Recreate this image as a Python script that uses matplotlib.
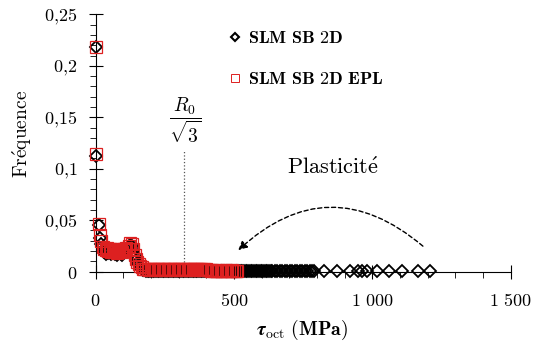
import matplotlib
matplotlib.use("Agg")
import matplotlib.pyplot as plt
from matplotlib.lines import Line2D
from matplotlib.patches import FancyArrowPatch
from matplotlib.ticker import FixedLocator, FixedFormatter, MultipleLocator

plt.rcParams['mathtext.fontset'] = 'cm'

# ---------------- data ----------------
epl_x = [0, 2, 12, 17, 21, 26, 31, 36, 41, 46,
         51, 56, 61, 66, 71, 76, 81, 86, 91, 96,
         101, 106, 111, 116, 121, 126, 131, 136, 141, 146,
         151, 156, 161, 166, 171, 176, 182, 188, 194, 200,
         206, 212, 218, 224, 230, 236, 242, 248, 254, 260,
         266, 272, 278, 284, 290, 296, 302, 308, 314, 320,
         326, 332, 338, 344, 350, 356, 362, 368, 374, 380,
         386, 392, 398, 404, 410, 416, 422, 428, 434, 440,
         446, 452, 458, 464, 470, 476, 482, 488, 494, 500,
         506, 512]
epl_y = [0.218, 0.114, 0.046, 0.036, 0.030, 0.024, 0.022, 0.021, 0.023, 0.020,
         0.022, 0.019, 0.021, 0.022, 0.020, 0.018, 0.021, 0.022, 0.020, 0.019,
         0.022, 0.021, 0.023, 0.022, 0.025, 0.028, 0.027, 0.022, 0.016, 0.012,
         0.009, 0.007, 0.005, 0.004, 0.003, 0.0025, 0.003, 0.0025, 0.002, 0.003,
         0.0025, 0.003, 0.002, 0.0025, 0.003, 0.0025, 0.002, 0.003, 0.0025, 0.003,
         0.002, 0.0025, 0.003, 0.0025, 0.002, 0.003, 0.0025, 0.003, 0.002, 0.0025,
         0.003, 0.0025, 0.002, 0.003, 0.0025, 0.003, 0.002, 0.0025, 0.003, 0.0025,
         0.002, 0.003, 0.0025, 0.002, 0.0015, 0.001, 0.0012, 0.001, 0.0008, 0.001,
         0.0012, 0.001, 0.0008, 0.001, 0.0012, 0.001, 0.0008, 0.001, 0.0012, 0.001,
         0.0008, 0.001]

sb_x = [0, 2, 12, 17, 21, 26, 31, 36, 41, 46,
        51, 56, 61, 66, 71, 76, 81, 86, 91, 96,
        101, 106, 111, 116, 121, 126, 131, 136, 141, 146,
        151, 156, 161, 166, 171, 176, 182, 188, 194, 200,
        206, 212, 218, 224, 230, 236, 242, 248, 254, 260,
        266, 272, 278, 284, 290, 296, 302, 308, 314, 320,
        326, 332, 338, 344, 350, 356, 362, 368, 374, 380,
        386, 392, 398, 404, 410, 416, 422, 428, 434, 440,
        446, 452, 458, 464, 470, 476, 482, 488, 494, 500,
        506, 512, 518, 524, 530, 536, 542, 548, 554, 560,
        566, 572, 578, 584, 590, 596, 602, 608, 614, 620,
        626, 632, 638, 647, 656, 665, 674, 683, 692, 701,
        710, 719, 728, 737, 746, 755, 764, 773, 782, 790,
        825, 871, 919, 948, 963, 981, 1018, 1061, 1106, 1166,
        1208]
sb_y = [0.218, 0.112, 0.045, 0.033, 0.027, 0.021, 0.019, 0.017, 0.020, 0.018,
        0.019, 0.017, 0.018, 0.020, 0.017, 0.016, 0.018, 0.020, 0.017, 0.016,
        0.019, 0.020, 0.021, 0.020, 0.024, 0.026, 0.025, 0.020, 0.015, 0.011,
        0.008, 0.006, 0.004, 0.003, 0.002, 0.0015, 0.001, 0.0008, 0.0006, 0.0008,
        0.0006, 0.0008, 0.0006, 0.0008, 0.0006, 0.0008, 0.0006, 0.0008, 0.0006, 0.0008,
        0.0006, 0.0008, 0.0006, 0.0008, 0.0006, 0.0008, 0.0006, 0.0008, 0.0006, 0.0008,
        0.0006, 0.0008, 0.0006, 0.0008, 0.0006, 0.0008, 0.0006, 0.0008, 0.0006, 0.0008,
        0.0006, 0.0008, 0.0006, 0.0008, 0.0006, 0.0008, 0.0006, 0.0008, 0.0006, 0.0008,
        0.0006, 0.0008, 0.0006, 0.0008, 0.0006, 0.0008, 0.0006, 0.0008, 0.0006, 0.0008,
        0.0006, 0.0008, 0.0007, 0.0008, 0.0007, 0.0008, 0.0007, 0.0008, 0.0007, 0.0008,
        0.0007, 0.0008, 0.0007, 0.0008, 0.0007, 0.0008, 0.0007, 0.0008, 0.0007, 0.0008,
        0.0007, 0.0008, 0.0007, 0.0006, 0.0007, 0.0006, 0.0007, 0.0006, 0.0007, 0.0006,
        0.0007, 0.0006, 0.0007, 0.0006, 0.0007, 0.0006, 0.0007, 0.0006, 0.0007, 0.0006,
        0.0003, 0.0003, 0.0003, 0.0003, 0.0003, 0.0003, 0.0003, 0.0003, 0.0003, 0.0003,
        0.0003]

series_labels = ['SLM SB 2D', 'SLM SB 2D EPL']
x_ticks = [0, 500, 1000, 1500]
x_tick_labels = ['0', '500', '1 000', '1 500']
y_ticks = [0, 0.05, 0.1, 0.15, 0.2, 0.25]
y_tick_labels = ['0', '0,05', '0,1', '0,15', '0,2', '0,25']
r0_line_x = 320
r0_line_top = 0.118


def bold_math(s):
    return r'$\mathbf{' + s.replace(',', '{,}').replace(' ', r'\ ') + '}$'


# ---------------- figure ----------------
fig = plt.figure(figsize=(5.33, 3.47), dpi=100)
ax = fig.add_axes([0.1794, 0.2173, 0.779, 0.7411])

red = '#dd2020'
ax.plot(sb_x, sb_y, ls='none', marker='D', ms=6.0, mfc='none', mec='black',
        mew=1.3, clip_on=False, zorder=3)
ax.plot(epl_x, epl_y, ls='none', marker='s', ms=9.0, mfc='none', mec=red,
        mew=0.9, clip_on=False, zorder=4)

ax.set_xlim(0, 1500)
ax.set_ylim(0, 0.25)

for s in ['top', 'right']:
    ax.spines[s].set_visible(False)
for s in ['left', 'bottom']:
    ax.spines[s].set_linewidth(0.8)

ax.xaxis.set_major_locator(FixedLocator(x_ticks))
ax.xaxis.set_major_formatter(FixedFormatter([bold_math(t) for t in x_tick_labels]))
ax.yaxis.set_major_locator(FixedLocator(y_ticks))
ax.yaxis.set_major_formatter(FixedFormatter([bold_math(t) for t in y_tick_labels]))
ax.xaxis.set_minor_locator(MultipleLocator(100))
ax.yaxis.set_minor_locator(MultipleLocator(0.01))

ax.tick_params(which='major', direction='inout', length=9.5, width=0.8,
               labelsize=13)
ax.tick_params(axis='y', which='major', pad=8.5)
ax.tick_params(axis='x', which='major', pad=10)
ax.tick_params(which='minor', direction='out', length=4, width=0.6)

# axis labels
fig.text(0.5666, 0.049, r'$\boldsymbol{\tau}_{\mathrm{oct}}\ \mathbf{(MPa)}$',
         ha='center', va='center', fontsize=14.3)
fig.text(0.0426, 0.615, r'$\mathrm{Fr\acute{e}quence}$', rotation=90,
         ha='center', va='center', fontsize=14)

# R0/sqrt(3) marker
ax.plot([r0_line_x, r0_line_x], [0, r0_line_top], ls=':', color='#555555', lw=0.9,
        zorder=2)
ax.text(323, 0.147, r'$\dfrac{R_0}{\sqrt{3}}$', ha='center', va='center',
        fontsize=14)

# Plasticité annotation
ax.text(858, 0.101, r'$\mathrm{Plasticit\acute{e}}$', ha='center', va='center',
        fontsize=16)
arrow = FancyArrowPatch(posA=(1190, 0.023), posB=(508, 0.019),
                        connectionstyle='arc3,rad=0.45', arrowstyle='-|>',
                        mutation_scale=13, lw=1.0, ls=(0, (3, 2)),
                        color='black', zorder=5)
ax.add_patch(arrow)

# legend
handles = [Line2D([], [], ls='none', marker='D', ms=4.5, mfc='none', mec='black', mew=1.5),
           Line2D([], [], ls='none', marker='s', ms=6.0, mfc='none', mec=red, mew=0.7)]
leg = ax.legend(handles, [bold_math(t) for t in series_labels], loc='upper left',
                bbox_to_anchor=(226 / 533, 1 - 29 / 347), bbox_transform=fig.transFigure,
                frameon=False, fontsize=13, handlelength=1.0, handletextpad=0.2,
                labelspacing=1.3, borderpad=0, borderaxespad=0)

fig.savefig('out.png', dpi=100)
